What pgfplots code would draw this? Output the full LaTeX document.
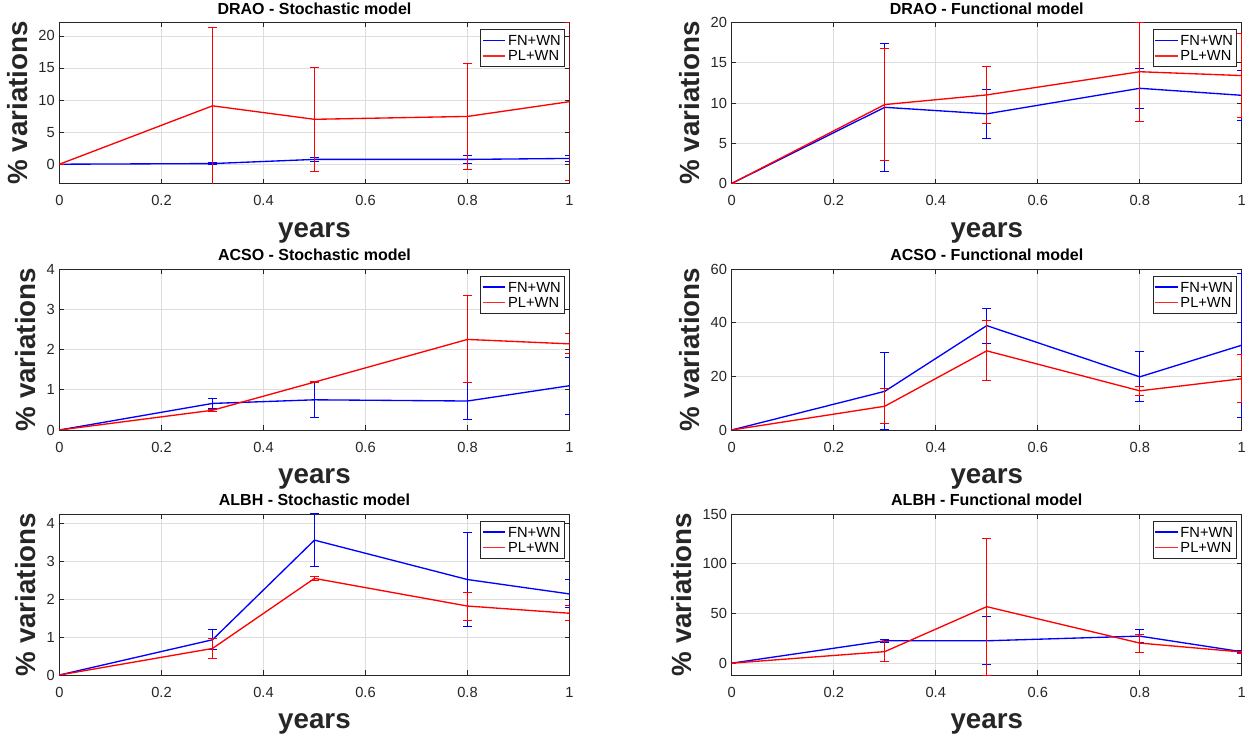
\documentclass[border=0pt]{standalone}
\usepackage{pgfplots}
\pgfplotsset{compat=1.18}
\usepackage{fontspec}
\setmainfont{Liberation Sans}
\definecolor{axgray}{rgb}{0.15,0.15,0.15}
\definecolor{gridgray}{rgb}{0.87,0.87,0.87}
\pgfplotsset{
  mystyle/.style={
    scale only axis, width=382.5pt, height=120.75pt,
    xmin=0, xmax=1,
    xtick={0,0.2,0.4,0.6,0.8,1},
    xticklabels={0,0.2,0.4,0.6,0.8,1},
    axis line style={axgray, line width=0.6pt},
    tick style={axgray, line width=0.5pt},
    major tick length=3.5pt,
    tick align=inside,
    xmajorgrids, ymajorgrids,
    grid style={gridgray, line width=0.6pt},
    ticklabel style={font=\fontsize{11}{13}\selectfont, text=axgray},
    xticklabel style={yshift=-5.5pt},
    /pgf/number format/assume math mode=true,
    every axis title/.style={at={(axis description cs:0.5,1)}, anchor=base, yshift=6pt, font=\bfseries\fontsize{12}{14}\selectfont, text=black},
    xlabel={years}, ylabel={\% variations},
    every axis x label/.style={at={(axis description cs:0.5,0)}, anchor=base, yshift=-40.3pt, font=\bfseries\fontsize{20.8}{24}\selectfont, text=axgray},
    ylabel style={font=\bfseries\fontsize{20.8}{24}\selectfont, text=axgray, yshift=1pt},
    legend style={at={(1,1)}, anchor=north east, xshift=-3.75pt, yshift=-5pt,
      font=\fontsize{11}{12.5}\selectfont, draw=axgray, line width=0.6pt,
      inner xsep=1pt, inner ysep=2.5pt, row sep=0pt, text=black,
      nodes={inner sep=1.5pt, text height=8pt, text depth=0.5pt}},
    legend cell align=left,
    legend image code/.code={\draw[#1] (0pt,0pt) -- (17pt,0pt);},
  },
  errstyle/.style={
    error bars/y dir=both, error bars/y explicit,
    error bars/error bar style={draw=#1, line width=0.75pt},
    error bars/error mark options={rotate=90, draw=#1, mark size=3.5pt, line width=0.75pt}},
}
\newcommand{\legimages}{%
  \addlegendimage{blue, line width=1pt}
  \addlegendimage{red!85!white, line width=1.1pt}
  \legend{FN+WN, PL+WN}}
\begin{document}
\begin{tikzpicture}
\path[use as bounding box] (0,0) rectangle (941.25pt,553.5pt);

% DRAO stochastic
\begin{axis}[mystyle, at={(44.6pt,415.9pt)}, anchor=south west,
  title={DRAO - Stochastic model}, ymin=-3, ymax=22.1, ytick={0,5,10,15,20}]
\legimages
\addplot[blue, line width=1pt, errstyle=blue] coordinates {(0,0) +- (0,0) (0.3,0.1) +- (0,0.1) (0.5,0.75) +- (0,0.3) (0.8,0.75) +- (0,0.6) (1,0.9) +- (0,0.4)};
\addplot[red, line width=1pt, errstyle=red] coordinates {(0,0) +- (0,0) (0.3,9.1) +- (0,12.2) (0.5,7.0) +- (0,8.1) (0.8,7.45) +- (0,8.3) (1,9.75) +- (0,12.3)};
\end{axis}

% DRAO functional
\begin{axis}[mystyle, at={(548.8pt,415.9pt)}, anchor=south west,
  title={DRAO - Functional model}, ymin=0, ymax=20, ytick={0,5,10,15,20}]
\legimages
\addplot[blue, line width=1pt, errstyle=blue] coordinates {(0,0) +- (0,0) (0.3,9.46) +- (0,7.95) (0.5,8.65) +- (0,3.03) (0.8,11.82) +- (0,2.5) (1,10.95) +- (0,3.12)};
\addplot[red, line width=1pt, errstyle=red] coordinates {(0,0) +- (0,0) (0.3,9.8) +- (0,7.0) (0.5,11.0) +- (0,3.57) (0.8,13.88) +- (0,6.15) (1,13.4) +- (0,5.2)};
\end{axis}

% ACSO stochastic
\begin{axis}[mystyle, at={(44.6pt,231pt)}, anchor=south west,
  title={ACSO - Stochastic model}, ymin=0, ymax=4, ytick={0,1,2,3,4}]
\legimages
\addplot[blue, line width=1pt, errstyle=blue] coordinates {(0,0) +- (0,0) (0.3,0.66) +- (0,0.13) (0.5,0.75) +- (0,0.45) (0.8,0.72) +- (0,0.45) (1,1.10) +- (0,0.71)};
\addplot[red, line width=1pt, errstyle=red] coordinates {(0,0) +- (0,0) (0.3,0.49) +- (0,0.03) (0.5,1.19) +- (0,0.01) (0.8,2.25) +- (0,1.08) (1,2.14) +- (0,0.25)};
\end{axis}

% ACSO functional
\begin{axis}[mystyle, at={(548.8pt,231pt)}, anchor=south west,
  title={ACSO - Functional model}, ymin=0, ymax=60, ytick={0,20,40,60}]
\legimages
\addplot[blue, line width=1pt, errstyle=blue] coordinates {(0,0) +- (0,0) (0.3,14.4) +- (0,14.35) (0.5,38.9) +- (0,6.55) (0.8,19.8) +- (0,9.3) (1,31.6) +- (0,26.9)};
\addplot[red, line width=1pt, errstyle=red] coordinates {(0,0) +- (0,0) (0.3,8.85) +- (0,6.5) (0.5,29.5) +- (0,11.2) (0.8,14.6) +- (0,1.6) (1,19.1) +- (0,8.9)};
\end{axis}

% ALBH stochastic
\begin{axis}[mystyle, at={(44.6pt,47.25pt)}, anchor=south west,
  title={ALBH - Stochastic model}, ymin=0, ymax=4.25, ytick={0,1,2,3,4}]
\legimages
\addplot[blue, line width=1pt, errstyle=blue] coordinates {(0,0) +- (0,0) (0.3,0.93) +- (0,0.27) (0.5,3.56) +- (0,0.69) (0.8,2.52) +- (0,1.25) (1,2.14) +- (0,0.37)};
\addplot[red, line width=1pt, errstyle=red] coordinates {(0,0) +- (0,0) (0.3,0.70) +- (0,0.26) (0.5,2.55) +- (0,0.05) (0.8,1.82) +- (0,0.37) (1,1.63) +- (0,0.2)};
\end{axis}

% ALBH functional
\begin{axis}[mystyle, at={(548.8pt,47.25pt)}, anchor=south west,
  title={ALBH - Functional model}, ymin=-11.9, ymax=150, ytick={0,50,100,150}]
\legimages
\addplot[blue, line width=1pt, errstyle=blue] coordinates {(0,0) +- (0,0) (0.3,22.5) +- (0,1.4) (0.5,22.5) +- (0,24.3) (0.8,27.2) +- (0,6.2) (1,11.5) +- (0,1.2)};
\addplot[red, line width=1pt, errstyle=red] coordinates {(0,0) +- (0,0) (0.3,11.6) +- (0,10.2) (0.5,56.8) +- (0,68.7) (0.8,20.2) +- (0,9.0) (1,11.2) +- (0,1.0)};
\end{axis}
\end{tikzpicture}
\end{document}
